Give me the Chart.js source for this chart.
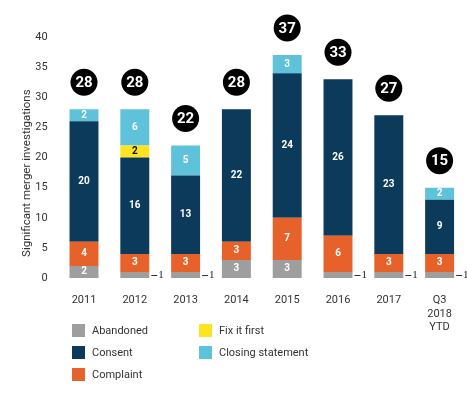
<!DOCTYPE html>
<html lang="en">
<head>
    <meta charset="UTF-8">
    <title>Significant merger investigations</title>
    <script src="https://cdn.jsdelivr.net/npm/chart.js"></script>
    <style>
        body {
            margin: 0;
            background: white;
            font-family: Roboto, "Liberation Sans", sans-serif;
        }
        .wrap {
            position: relative;
            width: 467px;
            height: 393px;
        }
        .chart-box {
            position: absolute;
            left: 0;
            top: 0;
            width: 467px;
            height: 332px;
        }
        .legend {
            position: absolute;
            left: 72px;
            top: 319px;
            display: grid;
            grid-template-columns: 127px 160px;
            grid-auto-flow: column;
            grid-template-rows: repeat(3, 22px);
            font-size: 11px;
            color: #333;
        }
        .legend div {
            display: flex;
            align-items: center;
            height: 22px;
        }
        .legend span.sw {
            width: 13px;
            height: 13px;
            margin-right: 7px;
            display: inline-block;
        }
    </style>
</head>
<body>
<div class="wrap">
    <div class="chart-box"><canvas id="chart"></canvas></div>
    <div class="legend" id="legend"></div>
</div>

<script>
    const years = ["2011", "2012", "2013", "2014", "2015", "2016", "2017", ["Q3", "2018", "YTD"]];
    const abandoned = [2, 1, 1, 3, 3, 1, 1, 1];
    const complaint = [4, 3, 3, 3, 7, 6, 3, 3];
    const consent = [20, 16, 13, 22, 24, 26, 23, 9];
    const fixItFirst = [0, 2, 0, 0, 0, 0, 0, 0];
    const closingStatement = [2, 6, 5, 0, 3, 0, 0, 2];
    const yTicks = [0, 5, 10, 15, 20, 25, 30, 35, 40];
    const yTitle = "Significant merger investigations";

    const colors = {
        abandoned: "#9e9e9e",
        consent: "#0b3a5b",
        complaint: "#e7612b",
        fix: "#fde41f",
        closing: "#5ec2da"
    };

    // stacking order bottom -> top
    const datasets = [
        { label: "Abandoned", data: abandoned, backgroundColor: colors.abandoned },
        { label: "Complaint", data: complaint, backgroundColor: colors.complaint },
        { label: "Consent", data: consent, backgroundColor: colors.consent },
        { label: "Fix it first", data: fixItFirst, backgroundColor: colors.fix },
        { label: "Closing statement", data: closingStatement, backgroundColor: colors.closing }
    ];

    // legend order as in the original
    const legendOrder = ["Abandoned", "Consent", "Complaint", "Fix it first", "Closing statement"];
    const legendEl = document.getElementById("legend");
    legendOrder.forEach(name => {
        const ds = datasets.find(d => d.label === name);
        const item = document.createElement("div");
        item.innerHTML = `<span class="sw" style="background:${ds.backgroundColor}"></span>${name}`;
        legendEl.appendChild(item);
    });

    const labelsPlugin = {
        id: "barLabels",
        afterDatasetsDraw(chart) {
            const ctx = chart.ctx;
            const yScale = chart.scales.y;
            ctx.save();
            chart.data.datasets.forEach((ds, di) => {
                const meta = chart.getDatasetMeta(di);
                meta.data.forEach((bar, i) => {
                    const v = ds.data[i];
                    if (!v) return;
                    const mid = (bar.y + bar.base) / 2;
                    if (v === 1) {
                        const right = bar.x + bar.width / 2;
                        ctx.strokeStyle = "#333";
                        ctx.lineWidth = 1;
                        ctx.beginPath();
                        ctx.moveTo(right + 2, Math.round(mid) + 0.5);
                        ctx.lineTo(right + 8, Math.round(mid) + 0.5);
                        ctx.stroke();
                        ctx.fillStyle = "#222";
                        ctx.font = "11px 'Liberation Serif', serif";
                        ctx.textAlign = "left";
                        ctx.textBaseline = "middle";
                        ctx.fillText("1", right + 9, mid + 0.5);
                        return;
                    }
                    ctx.fillStyle = ds.label === "Fix it first" ? "#111" : "#fff";
                    ctx.font = "bold 10px Roboto, sans-serif";
                    ctx.textAlign = "center";
                    ctx.textBaseline = "middle";
                    ctx.fillText(String(v), bar.x, mid);
                });
            });

            // totals in black circles
            const xScale = chart.scales.x;
            years.forEach((y, i) => {
                const total = datasets.reduce((s, d) => s + (d.data[i] || 0), 0);
                const cx = xScale.getPixelForValue(i);
                const cy = yScale.getPixelForValue(total) - 27;
                ctx.fillStyle = "#000";
                ctx.beginPath();
                ctx.arc(cx, cy, 13.5, 0, Math.PI * 2);
                ctx.fill();
                ctx.fillStyle = "#fff";
                ctx.font = "bold 15px Roboto, sans-serif";
                ctx.textAlign = "center";
                ctx.textBaseline = "middle";
                ctx.fillText(String(total), cx, cy + 1);
            });

            // y axis title, sitting a little below the plot centre as in the original
            ctx.translate(yScale.left + 7, yScale.getPixelForValue(17.4));
            ctx.rotate(-Math.PI / 2);
            ctx.fillStyle = "#333";
            ctx.font = "11.5px Roboto, sans-serif";
            ctx.textAlign = "center";
            ctx.textBaseline = "middle";
            ctx.fillText(yTitle, 0, 0);
            ctx.restore();
        }
    };

    new Chart(document.getElementById("chart"), {
        type: "bar",
        data: { labels: years, datasets: datasets },
        options: {
            responsive: true,
            maintainAspectRatio: false,
            animation: false,
            layout: { padding: { left: 20, right: 2, top: 37, bottom: 0 } },
            plugins: {
                legend: { display: false },
                tooltip: { enabled: false }
            },
            datasets: {
                bar: { categoryPercentage: 1, barPercentage: 0.57 }
            },
            scales: {
                x: {
                    stacked: true,
                    grid: { display: false },
                    border: { display: false },
                    afterFit(scale) { scale.height = 54; },
                    ticks: {
                        color: "#333",
                        font: { size: 11, family: "Roboto, sans-serif" },
                        padding: 8,
                        maxRotation: 0
                    }
                },
                y: {
                    stacked: true,
                    min: 0,
                    max: 40,
                    afterBuildTicks(scale) {
                        scale.ticks = yTicks.map(v => ({ value: v }));
                    },
                    afterFit(scale) { scale.width = 38.6; },
                    grid: { display: false },
                    border: { display: false },
                    ticks: {
                        color: "#333",
                        font: { size: 11, family: "Roboto, sans-serif" },
                        padding: 3
                    }
                }
            }
        },
        plugins: [labelsPlugin]
    });
</script>
</body>
</html>
